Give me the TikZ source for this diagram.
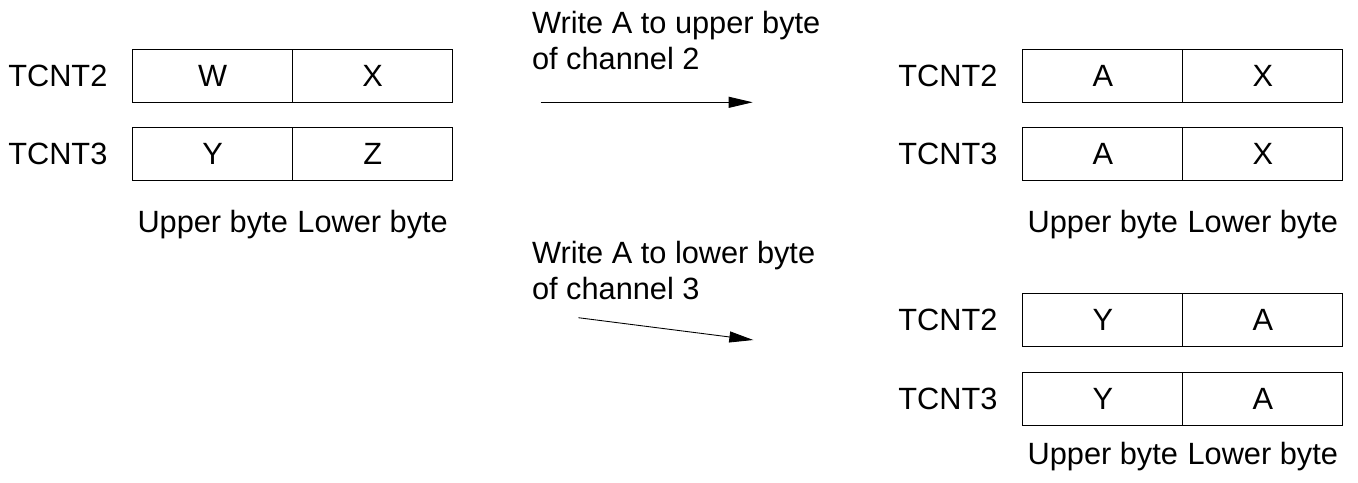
\documentclass[tikz,border=0pt]{standalone}
\usepackage{fontspec}
\setmainfont{Liberation Sans}
\usetikzlibrary{arrows.meta,positioning}

\begin{document}
\begin{tikzpicture}[x=0.02cm,y=-0.02cm,font=\fontsize{17.5}{20.6}\selectfont,
cell/.style={draw,line width=0.7pt,minimum width=3.2cm,minimum height=1.06cm,inner sep=0,outer sep=0},
reg/.style={inner sep=0},bytetext/.style={inner sep=0},note/.style={inner sep=0,align=left,anchor=north west},
arr/.style={line width=0.5pt,-{Triangle[length=0.48cm,width=0.22cm]}}]
\useasboundingbox (0,0) rectangle (1358,483);
\foreach \n/\x/\y/\u/\l in {a/212.7/75.8/W/X,b/212.7/154.2/Y/Z,c/1102.8/75.8/A/X,d/1102.8/154.2/A/X,e/1102.8/320.3/Y/A,f/1102.8/398.8/Y/A}{\node[cell] (\n u) at (\x,\y){\u};\node[cell,right=0pt of \n u] (\n l){\l};}
\foreach \n/\t in {a/TCNT2,b/TCNT3,c/TCNT2,d/TCNT3,e/TCNT2,f/TCNT3}{\node[reg,left=0.5cm of \n u] (\n r){\t};}
\foreach \n/\d in {b/0.58cm,d/0.58cm,f/0.33cm}{\node[bytetext,below=\d of \n u] (\n ub){Upper byte};\node[bytetext,below=\d of \n l] (\n lb){Lower byte};}
\node[note] (wup) at (531.7,10.5){Write A to upper byte\\of channel 2};
\node[note] (wlo) at (531.7,240.5){Write A to lower byte\\of channel 3};
\coordinate (p1) at (540.7,102.3);\coordinate (q1) at (752.7,102.3);
\coordinate (p2) at (578.3,317.7);\coordinate (q2) at (753.3,340);
\draw[arr] (p1)--(q1);\draw[arr] (p2)--(q2);
\end{tikzpicture}
\end{document}
